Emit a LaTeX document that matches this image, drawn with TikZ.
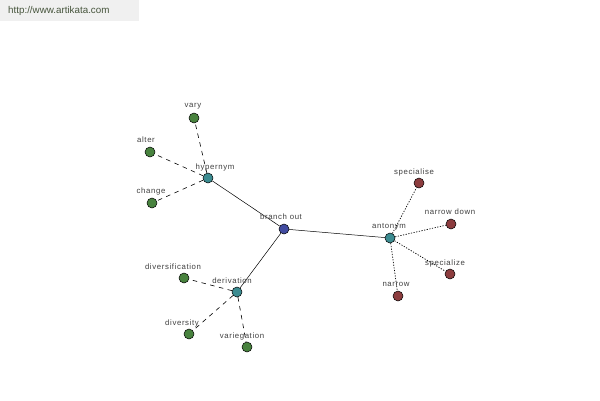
\documentclass[tikz,border=0pt]{standalone}
\usepackage{fontspec}
\setmainfont{Liberation Sans}
\newfontfamily\lblfont[LetterSpace=8]{Liberation Sans}
\begin{document}
\begin{tikzpicture}[x=1pt,y=-1pt,
  dot/.style={circle,draw=black,line width=0.5pt,inner sep=0pt,minimum size=10pt},
  lbl/.style={font=\lblfont\fontsize{7.8}{8}\selectfont,text=black!75,inner sep=0pt},
  solidl/.style={draw=black,line width=0.5pt},
  dashl/.style={draw=black,line width=0.6pt,dash pattern=on 4.5pt off 4.5pt},
  dotl/.style={draw=black,line width=0.7pt,dash pattern=on 1.2pt off 1.5pt}]
\definecolor{gn}{RGB}{72,130,62}
\definecolor{tl}{RGB}{60,140,145}
\definecolor{bl}{RGB}{65,75,160}
\definecolor{rd}{RGB}{140,60,62}
\definecolor{urlc}{RGB}{70,85,60}
\tikzset{gdot/.style={dot,fill=gn},tdot/.style={dot,fill=tl},bdot/.style={dot,fill=bl},rdot/.style={dot,fill=rd}}
\useasboundingbox (0,0) rectangle (600,400);
\fill[white] (0,0) rectangle (600,400);
\fill[black!6] (0,0) rectangle (139,21);
\node[anchor=west,inner sep=0pt,font=\fontsize{9.8}{11}\selectfont,text=urlc] (url) at (8,11) {http://www.artikata.com};
% centre nodes
\node[bdot] (br) at (284,229) {};
\node[tdot] (hy) at (208,178) {};
\node[tdot] (de) at (237,292) {};
\node[tdot] (an) at (390,238) {};
% leaves
\node[gdot] (vary) at (194,118) {};
\node[gdot] (alter) at (150,152) {};
\node[gdot] (change) at (152,203) {};
\node[gdot] (divf) at (184,278) {};
\node[gdot] (divs) at (189,334) {};
\node[gdot] (vari) at (247,347) {};
\node[rdot] (spes) at (419,183) {};
\node[rdot] (nard) at (451,224) {};
\node[rdot] (spez) at (450,274) {};
\node[rdot] (narr) at (398,296) {};
% edges
\path[solidl] (br) -- (hy);
\path[solidl] (br) -- (de);
\path[solidl] (br) -- (an);
\path[dashl] (hy) -- (vary);
\path[dashl] (hy) -- (alter);
\path[dashl] (hy) -- (change);
\path[dashl] (de) -- (divf);
\path[dashl] (de) -- (divs);
\path[dashl] (de) -- (vari);
\path[dotl] (an) -- (spes);
\path[dotl] (an) -- (nard);
\path[dotl] (an) -- (spez);
\path[dotl] (an) -- (narr);
% labels
\node[lbl] (lbr) at (281,217) {branch out};
\node[lbl] (lhy) at (215,167) {hypernym};
\node[lbl] (lde) at (232,281) {derivation};
\node[lbl] (lan) at (389,227) {antonym};
\node[lbl] (lvary) at (193,106) {vary};
\node[lbl] (lalter) at (146,140) {alter};
\node[lbl] (lchange) at (151,191) {change};
\node[lbl] (ldivf) at (173,267) {diversification};
\node[lbl] (ldivs) at (182,323) {diversity};
\node[lbl] (lvari) at (242,336) {variegation};
\node[lbl] (lspes) at (414,172) {specialise};
\node[lbl] (lnard) at (450,212) {narrow down};
\node[lbl] (lspez) at (445,263) {specialize};
\node[lbl] (lnarr) at (396,284) {narrow};
\end{tikzpicture}
\end{document}
